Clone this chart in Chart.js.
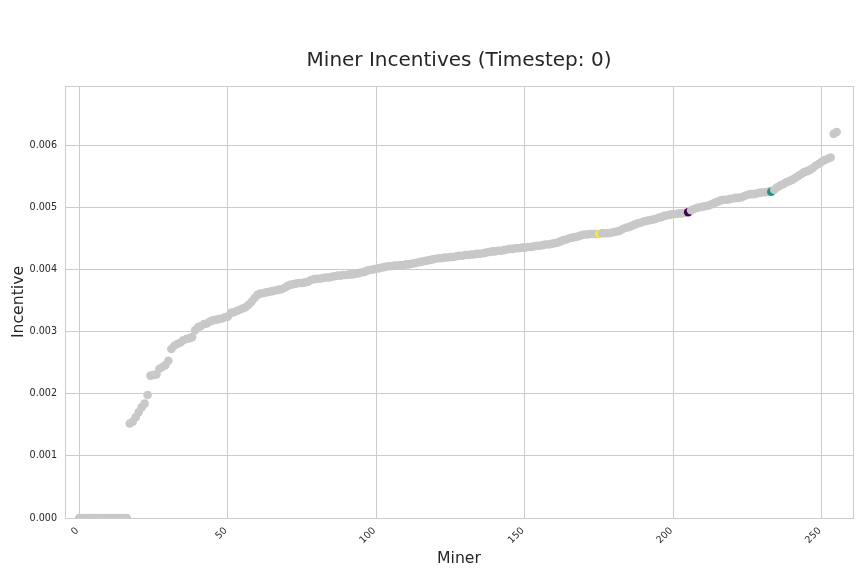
<!DOCTYPE html>
<html><head><meta charset="utf-8">
<script src="https://cdn.jsdelivr.net/npm/chart.js@4.4.0/dist/chart.umd.min.js"></script>
<style>html,body{margin:0;padding:0;background:#fff}#wrap{width:864px;height:576px}</style>
</head><body><div id="wrap"><canvas id="c" width="864" height="576"></canvas></div>
<script>
const incentives = [
0,0,0,0,0,0,0,0,0,0,0,0,0,0,0,0,0,
0.00152,0.00155,0.00162,0.00170,0.00178,0.00184,0.00198,0.00229,0.00230,0.00231,0.00240,0.00243,0.00246,0.00253,
0.00272,0.00277,0.00280,0.00282,0.00286,0.00288,0.00289,0.00291,0.00302,0.00307,0.00309,0.00312,0.00313,0.00316,
0.00318,0.00319,0.00320,0.00321,0.00323,0.00324,0.00330,0.00331,0.00333,0.00335,0.00337,0.00339,0.00343,0.00348,
0.00354,0.00359,0.00361,0.00362,0.00363,0.00364,0.00365,0.00366,0.00367,0.00368,0.00370,0.00373,0.00375,0.00376,
0.00377,0.00378,0.00378,0.00379,0.00380,0.00383,0.00384,0.00385,0.00385,0.00386,0.00387,0.00387,0.00388,0.00389,
0.00390,0.00390,0.00391,0.00391,0.00392,0.00392,0.00393,0.00394,0.00395,0.00396,0.00398,0.00399,0.00400,0.00401,
0.00402,0.00403,0.00404,0.00405,0.00405,0.00406,0.00406,0.00407,0.00407,0.00408,0.00408,0.00409,0.00410,0.00411,
0.00412,0.00413,0.00414,0.00415,0.00416,0.00417,0.00418,0.00418,0.00419,0.00419,0.00420,0.00420,0.00421,0.00422,
0.00422,0.00423,0.00423,0.00424,0.00424,0.00425,0.00425,0.00426,0.00427,0.00428,0.00429,0.00429,0.00430,0.00430,
0.00431,0.00432,0.00433,0.00433,0.00434,0.00434,0.00435,0.00435,0.00436,0.00436,0.00437,0.00438,0.00438,0.00439,
0.00440,0.00440,0.00441,0.00442,0.00443,0.00445,0.00447,0.00448,0.00450,0.00451,0.00452,0.00453,0.00455,0.00456,
0.00456,0.00457,0.00457,0.00457,0.00457,0.00458,0.00458,0.00458,0.00459,0.00460,0.00461,0.00462,0.00465,0.00467,
0.00468,0.00470,0.00472,0.00474,0.00475,0.00477,0.00478,0.00479,0.00480,0.00481,0.00483,0.00484,0.00486,0.00487,
0.00488,0.00489,0.00489,0.00490,0.00490,0.00491,0.00492,0.00495,0.00497,0.00499,0.00500,0.00501,0.00502,0.00503,
0.00505,0.00507,0.00509,0.00511,0.00512,0.00512,0.00513,0.00514,0.00515,0.00515,0.00516,0.00518,0.00520,0.00521,
0.00521,0.00522,0.00523,0.00524,0.00524,0.00525,0.00525,0.00528,0.00532,0.00535,0.00537,0.00540,0.00542,0.00544,
0.00547,0.00550,0.00553,0.00556,0.00558,0.00560,0.00563,0.00567,0.00570,0.00573,0.00576,0.00578,0.00580,0.00618,
0.00621
];
const highlightMiners = [175, 205, 233];
const highlightColors = ['#fde725', '#440154', '#21918c'];
const baseColor = '#c8c8c8';
const xTicks = [0, 50, 100, 150, 200, 250];
const yTicks = [0, 0.001, 0.002, 0.003, 0.004, 0.005, 0.006];

const points = incentives.map((v, i) => ({x: i, y: v}));
const colors = incentives.map((v, i) => {
  const k = highlightMiners.indexOf(i);
  return k >= 0 ? highlightColors[k] : baseColor;
});

const FONT = "'DejaVu Sans', Verdana, sans-serif";
const TXT = '#262626';
const GRID = '#cccccc';

const frame = {
  id: 'frame',
  afterLayout(chart) {
    const a = chart.chartArea;
    if (chart.titleBlock) {
      chart.titleBlock.left = a.left;
      chart.titleBlock.right = a.right;
    }
  },
  beforeDatasetsDraw(chart) {
    const {ctx, chartArea: a} = chart;
    ctx.save();
    ctx.strokeStyle = GRID;
    ctx.lineWidth = 1;
    ctx.strokeRect(Math.round(a.left) + 0.5, Math.round(a.top) + 0.5,
                   Math.round(a.right - a.left), Math.round(a.bottom - a.top));
    ctx.restore();
  }
};

new Chart(document.getElementById('c'), {
  type: 'scatter',
  data: {
    datasets: [{
      data: points,
      pointBackgroundColor: colors,
      pointBorderWidth: 0,
      pointRadius: 4.3,
      pointHoverRadius: 4.3,
      clip: 0
    }]
  },
  plugins: [frame],
  options: {
    responsive: false,
    animation: false,
    devicePixelRatio: 1,
    events: [],
    layout: {padding: {left: 0, right: 11, top: 0, bottom: 0}},
    plugins: {
      legend: {display: false},
      tooltip: {enabled: false},
      title: {
        display: true,
        text: 'Miner Incentives (Timestep: 0)',
        color: TXT,
        font: {family: FONT, size: 20, weight: 'normal'},
        padding: {top: 48.4, bottom: 13.6}
      }
    },
    scales: {
      x: {
        type: 'linear',
        min: -4.8,
        max: 260.5,
        afterBuildTicks(s) { s.ticks = xTicks.map(v => ({value: v})); },
        afterFit(s) { s.height = 58; },
        grid: {color: GRID, lineWidth: 1, drawTicks: false},
        border: {display: false},
        ticks: {
          color: TXT,
          font: {family: FONT, size: 9.6},
          minRotation: 45, maxRotation: 45,
          padding: 7,
          labelOffset: -2,
          callback: v => String(v)
        },
        title: {
          display: true, text: 'Miner', color: TXT,
          font: {family: FONT, size: 15.7},
          padding: {top: 0, bottom: 8}
        }
      },
      y: {
        type: 'linear',
        min: 0,
        max: 0.00695,
        afterBuildTicks(s) { s.ticks = yTicks.map(v => ({value: v})); },
        afterFit(s) { s.width = 65; },
        grid: {color: GRID, lineWidth: 1, drawTicks: false},
        border: {display: false},
        ticks: {
          color: TXT,
          font: {family: FONT, size: 9.6},
          padding: 8,
          callback: v => Number(v).toFixed(3)
        },
        title: {
          display: true, text: 'Incentive', color: TXT,
          font: {family: FONT, size: 15.7},
          padding: {top: 9.6, bottom: 0}
        }
      }
    }
  }
});
</script>
</body></html>
